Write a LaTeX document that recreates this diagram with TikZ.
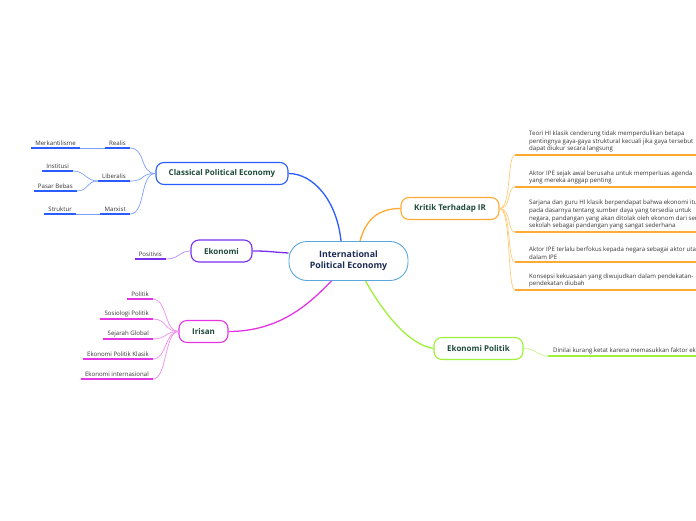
\documentclass[tikz,border=0pt]{standalone}
\usepackage{fontspec}
\setmainfont{Open Sans}
\usepackage{xcolor}
\usetikzlibrary{positioning,calc}

\definecolor{ipeborder}{HTML}{5AA8DC}
\definecolor{ipetext}{HTML}{1C2D55}
\definecolor{topictext}{HTML}{1F4A3A}
\definecolor{leaftext}{HTML}{333333}
\definecolor{cpeblue}{HTML}{2A5CFF}
\definecolor{cpelight}{HTML}{7E9EFF}
\definecolor{kritorange}{HTML}{FFAA33}
\definecolor{kritlight}{HTML}{FFCB7A}
\definecolor{ekopurple}{HTML}{7A2FF0}
\definecolor{ekolight}{HTML}{B48CFF}
\definecolor{irimag}{HTML}{E535E5}
\definecolor{irilight}{HTML}{F08CF0}
\definecolor{ekpgreen}{HTML}{9EF03A}
\definecolor{ekplight}{HTML}{C6F58C}

\begin{document}
\begin{tikzpicture}[
  x=1pt,y=-1pt,
  every node/.style={font=\fontsize{6.1}{7.8}\selectfont,text=leaftext,inner sep=0pt},
  central/.style={draw=ipeborder,line width=0.9pt,fill=white,rounded corners=18pt,
    minimum width=119pt,minimum height=39pt,align=center,text=ipetext,
    font=\fontsize{8.8}{11}\selectfont\bfseries},
  topic/.style={rounded corners=8pt,fill=white,line width=1.1pt,minimum height=22pt,
    text=topictext,font=\fontsize{8}{9}\selectfont\bfseries},
  leaf/.style={inner xsep=4pt,inner ysep=2pt,anchor=south east},
  note/.style={align=left},
  link/.style={line width=1.3pt},
  fan/.style={line width=0.7pt},
  uline/.style={line width=1.6pt},
]
\useasboundingbox (0,0) rectangle (696,520);
\clip (0,0) rectangle (696,520);

% main topics
\node[central] (ipe) at (348.5,261) {International\\Political Economy};
\node[topic,draw=cpeblue,minimum width=132pt] (cpe) at (222,173.5) {Classical Political Economy};
\node[topic,draw=ekopurple,minimum width=61pt] (eko) at (221.5,251) {Ekonomi};
\node[topic,draw=irimag,minimum width=49pt] (iri) at (203.5,331.5) {Irisan};
\node[topic,draw=kritorange,minimum width=98pt] (krit) at (450,208.5) {Kritik Terhadap IR};
\node[topic,draw=ekpgreen,minimum width=89pt] (ekp) at (478.5,348.5) {Ekonomi Politik};

\draw[link,cpeblue] (cpe.east) .. controls +(25,0) and +(-4,-40) .. ($(ipe.north)+(-7.5,0)$);
\draw[link,kritorange] ($(ipe.north)+(11.5,0)$) .. controls +(6,-22) and +(-22,0) .. (krit.west);
\draw[link,ekopurple] (eko.east) .. controls +(18,0) and +(-18,-1) .. ($(ipe.west)+(0,-8)$);
\draw[link,irimag] (iri.east) .. controls +(55,0) and +(-18,18) .. ($(ipe.south)+(-17,0)$);
\draw[link,ekpgreen] ($(ipe.south)+(17,0)$) .. controls +(18,32) and +(-25,-4) .. (ekp.west);

% Classical Political Economy
\node[leaf] (realis) at (130,148) {Realis};
\node[leaf] (merk) at (80,148) {Merkantilisme};
\node[leaf] (liberalis) at (130,181) {Liberalis};
\node[leaf] (institusi) at (73,171) {Institusi};
\node[leaf] (pasar) at (77,191) {Pasar Bebas};
\node[leaf] (marxist) at (130,214) {Marxist};
\node[leaf] (struktur) at (76,214) {Struktur};

\foreach \n in {realis,liberalis,marxist}
  \draw[fan,cpelight] (cpe.west) .. controls +(-16,0) and +(16,0) .. (\n.south east);
\draw[fan,cpelight] (merk.south east) -- (realis.south west);
\draw[fan,cpelight] (struktur.south east) -- (marxist.south west);
\draw[fan,cpelight] (liberalis.south west) .. controls +(-12,0) and +(12,0) .. (institusi.south east);
\draw[fan,cpelight] (liberalis.south west) .. controls +(-12,0) and +(12,0) .. (pasar.south east);
\foreach \n in {realis,merk,liberalis,institusi,pasar,marxist,struktur}
  \draw[uline,cpeblue] (\n.south west) -- (\n.south east);

% Ekonomi
\node[leaf] (positivis) at (166,259) {Positivis};
\draw[fan,ekolight] (positivis.south east) .. controls +(14,0) and +(-12,0) .. (eko.west);
\draw[uline,ekopurple] (positivis.south west) -- (positivis.south east);

% Irisan
\node[leaf] (politik) at (153,299) {Politik};
\node[leaf] (sosiologi) at (153,319) {Sosiologi Politik};
\node[leaf] (sejarah) at (153,339) {Sejarah Global};
\node[leaf] (epk) at (153,359) {Ekonomi Politik Klasik};
\node[leaf] (ei) at (153,379) {Ekonomi internasional};
\foreach \n in {politik,sosiologi,sejarah,epk,ei} {
  \draw[fan,irilight] (iri.west) .. controls +(-14,0) and +(14,0) .. (\n.south east);
  \draw[uline,irimag] (\n.south west) -- (\n.south east);
}

% Kritik Terhadap IR
\coordinate (k1) at (515,155);
\coordinate (k2) at (515,187);
\coordinate (k3) at (515,232);
\coordinate (k4) at (515,262);
\coordinate (k5) at (515,290);
\node[note,above right=2.5pt and 14pt of k1] (teori) {Teori HI klasik cenderung tidak memperdulikan betapa\\pentingnya gaya-gaya struktural kecuali jika gaya tersebut\\dapat diukur secara langsung};
\node[note,above right=2.5pt and 14pt of k2] (aktor) {Aktor IPE sejak awal berusaha untuk memperluas agenda\\yang mereka anggap penting};
\node[note,above right=2.5pt and 14pt of k3] (sarjana) {Sarjana dan guru HI klasik berpendapat bahwa ekonomi itu\\pada dasarnya tentang sumber daya yang tersedia untuk\\negara, pandangan yang akan ditolak oleh ekonom dari semua\\sekolah sebagai pandangan yang sangat sederhana};
\node[note,above right=2.5pt and 14pt of k4] (fokus) {Aktor IPE terlalu berfokus kepada negara sebagai aktor utama\\dalam IPE};
\node[note,above right=2.5pt and 14pt of k5] (konsepsi) {Konsepsi kekuasaan yang diwujudkan dalam pendekatan-\\pendekatan diubah};
\foreach \k in {k1,k2,k3,k4,k5} {
  \draw[fan,kritlight] (krit.east) .. controls +(12,0) and +(-8,0) .. (\k);
  \draw[uline,kritorange] (\k) -- ++(190,0);
}

% Ekonomi Politik
\coordinate (e1) at (548,356);
\node[note,above right=2pt and 5pt of e1] (dinilai) {Dinilai kurang ketat karena memasukkan faktor eksternal};
\draw[fan,ekplight] (ekp.east) .. controls +(14,0) and +(-12,0) .. (e1);
\draw[uline,ekpgreen] (e1) -- ++(160,0);
\end{tikzpicture}
\end{document}
